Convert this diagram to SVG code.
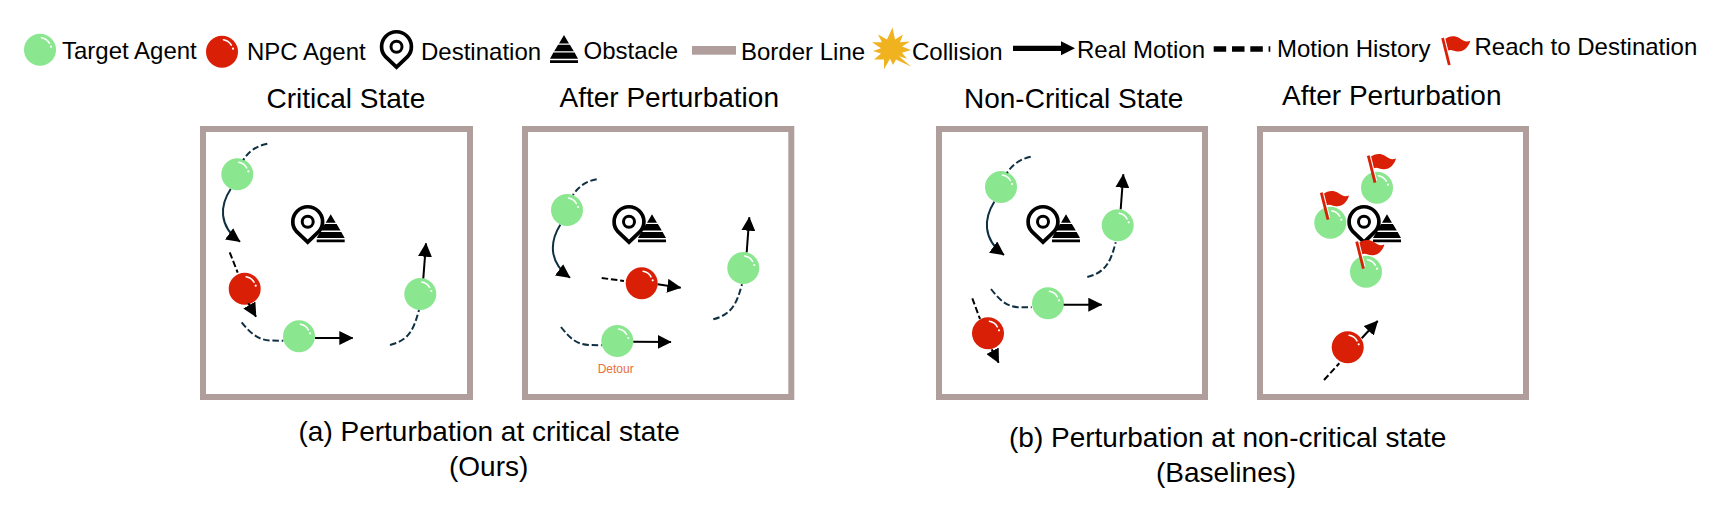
<svg xmlns="http://www.w3.org/2000/svg" width="1727" height="506" viewBox="0 0 1727 506">
<style>
text{font-family:"Liberation Sans",Arial,sans-serif;fill:#000}
.lg{font-size:24px}
.tt{font-size:28px}
.cap{font-size:28px}
.frame{fill:#fff;stroke:#b09e9d;stroke-width:6}
.hist{fill:none;stroke:#0f3042;stroke-width:2;stroke-dasharray:6.5 2.8}
.histk{fill:none;stroke:#000;stroke-width:2;stroke-dasharray:6.5 2.8}
.arc{fill:none;stroke:#0f3042;stroke-width:2;marker-end:url(#ah)}
.mv{fill:none;stroke:#000;stroke-width:2;marker-end:url(#ah)}
.hl{fill:none;stroke:#fff;stroke-width:1.6;stroke-linecap:round}
</style>
<defs>
<marker id="ah" markerUnits="userSpaceOnUse" viewBox="0 0 12 12" markerWidth="14" markerHeight="14" refX="11.5" refY="6" orient="auto"><path d="M0 0L12 6L0 12Z" fill="#000"/></marker>
<g id="shine"><path class="hl" d="M1.5 -12Q7 -11 9.3 -6.5"/><circle cx="11" cy="-3" r="1.1" fill="#fff"/></g>
<g id="green"><circle r="16" fill="#8ae790"/><use href="#shine"/></g>
<g id="red"><circle r="16" fill="#d92007"/><use href="#shine"/></g>
<g id="pin"><path d="M0 20.5L-11 10A14.9 14.9 0 1 1 11 10Z" fill="#fff" stroke="#000" stroke-width="3.7"/><circle r="5.5" fill="none" stroke="#000" stroke-width="3"/></g>
<g id="obst"><path d="M0 0L5 8.5H-5Z M-5.900 9.800H5.900L9.800 16.300H-9.800Z M-10.600 17.600H10.600L14 23.800H-14Z M-14 25.200H14V28H-14Z" fill="#000"/></g>
<g id="flag"><path d="M2.3 1C6 -2 12 -3 16.700 0S23 4.500 27.700 2.700C26 9 21 14 15 13.500C11 13 9 11 5 12.500Z" fill="#d92007"/><path d="M2.200 0.500L8.300 25" stroke="#fff" stroke-width="1" fill="none"/><path d="M0 0L6.700 27" stroke="#d92007" stroke-width="2.800" fill="none"/></g>
</defs>
<rect width="1727" height="506" fill="#fff"/>

<g id="legend">
<g id="legend-target"><use href="#green" x="40" y="49.7"/><text class="lg" x="62" y="59">Target Agent</text></g>
<g id="legend-npc"><use href="#red" x="222" y="51.7"/><text class="lg" x="247" y="60">NPC Agent</text></g>
<g id="legend-destination"><use href="#pin" x="396.5" y="46.7"/><text class="lg" x="421" y="60">Destination</text></g>
<g id="legend-obstacle"><use href="#obst" x="564" y="35"/><text class="lg" x="583.5" y="59">Obstacle</text></g>
<g id="legend-border"><rect x="692" y="46" width="44" height="8.7" fill="#b09e9d"/><text class="lg" x="741" y="59.5">Border Line</text></g>
<g id="legend-collision"><polygon points="892.5,27.4 895,39.6 903,34.4 900,42.2 910,41.4 902,46.6 911,50.1 902,52.7 907,58.8 899,56.2 911,66.6 896,59.6 893,64.9 890,58.8 884,69.2 884,59.6 874,59.6 881,53.6 873,50.9 881,48.3 872,42.2 882,42.2 878,34.4 887,39.6" fill="#f0b21f"/><text class="lg" x="912" y="60">Collision</text></g>
<g id="legend-real"><path d="M1013 48.3H1062" stroke="#000" stroke-width="5.3" fill="none"/><path d="M1061 41.3L1075 48.3L1061 55.3Z" fill="#000"/><text class="lg" x="1077" y="57.7">Real Motion</text></g>
<g id="legend-history"><path d="M1213.7 49H1270.3" stroke="#000" stroke-width="5.3" stroke-dasharray="12.5 5.8" fill="none"/><text class="lg" x="1277" y="56.7">Motion History</text></g>
<g id="legend-reach"><use href="#flag" x="1442.6" y="38"/><text class="lg" x="1474.5" y="55.3">Reach to Destination</text></g>
</g>

<g id="titles">
<text class="tt" x="266.5" y="108">Critical State</text>
<text class="tt" x="559.5" y="107">After Perturbation</text>
<text class="tt" x="964" y="108">Non-Critical State</text>
<text class="tt" x="1282" y="105">After Perturbation</text>
</g>

<g id="frames">
<rect id="frame-a1" class="frame" x="203" y="129" width="267" height="268"/>
<rect id="frame-a2" class="frame" x="525" y="129" width="266.3" height="268"/>
<rect id="frame-b1" class="frame" x="939" y="129" width="266" height="268"/>
<rect id="frame-b2" class="frame" x="1260" y="129" width="266" height="268"/>
</g>

<g id="panel-a1">
<g id="a1-dest"><use href="#pin" x="307.7" y="221.7"/><use href="#obst" x="330.7" y="214.3"/></g>
<use id="a1-t1" href="#green" x="237.3" y="174.3"/>
<use id="a1-npc" href="#red" x="244.7" y="288.7"/>
<use id="a1-t2" href="#green" x="299" y="336.3"/>
<use id="a1-t3" href="#green" x="420.3" y="294"/>
</g>
<g id="panel-a2">
<g id="a2-dest"><use href="#pin" x="629" y="221.7"/><use href="#obst" x="652" y="214.3"/></g>
<use id="a2-t1" href="#green" x="567" y="210"/>
<use id="a2-npc" href="#red" x="641.7" y="283.3"/>
<use id="a2-t2" href="#green" x="617.3" y="341"/>
<use id="a2-t3" href="#green" x="743.3" y="268"/>
<text id="a2-detour" x="597.7" y="372.7" font-size="12" style="fill:#e8703a">Detour</text>
</g>
<g id="panel-b1">
<g id="b1-dest"><use href="#pin" x="1043" y="221.7"/><use href="#obst" x="1066" y="214.3"/></g>
<use id="b1-t1" href="#green" x="1001" y="187"/>
<use id="b1-t2" href="#green" x="1117.7" y="225.3"/>
<use id="b1-t3" href="#green" x="1048" y="303.3"/>
<use id="b1-npc" href="#red" x="988" y="333.3"/>
</g>
<g id="panel-b2">
<g id="b2-dest"><use href="#pin" x="1364" y="221.7"/><use href="#obst" x="1387" y="214.3"/></g>
<g id="b2-t1"><use href="#green" x="1377" y="187.7"/><use href="#flag" x="1368.3" y="155.7"/></g>
<g id="b2-t2"><use href="#green" x="1330.3" y="222.7"/><use href="#flag" x="1321.3" y="192.7"/></g>
<g id="b2-t3"><use href="#green" x="1366" y="271.7"/><use href="#flag" x="1356.7" y="241.7"/></g>
<use id="b2-npc" href="#red" x="1347.7" y="347.3"/>
</g>

<g id="connectors">
<path class="hist" d="M267.3 143.7C256 146 248 152 243.3 160"/>
<path class="arc" d="M230.7 189C220 205 218 226 240 241.7"/>
<path class="histk" d="M229.7 252.3L237.7 272.7"/>
<path class="mv" d="M248.3 303.3L256 316.7"/>
<path class="hist" d="M241.7 322.3C250 333 258 340 270 340.5L283.3 340.7"/>
<path class="mv" d="M315 338H352.7"/>
<path class="hist" d="M390 345C410 340 414 328 419 310"/>
<path class="mv" d="M423.3 278.3L426 243.3"/>

<path class="hist" d="M596.7 179.3C586 181 578 187 573 195"/>
<path class="arc" d="M560.3 224.7C550 241 548 262 570 277.7"/>
<path class="histk" d="M601.7 278L624 281"/>
<path class="mv" d="M657.7 284.3L680.7 287.7"/>
<path class="hist" d="M561 327C569.5 338 577 344.7 589 345L601.7 345.3"/>
<path class="mv" d="M633.3 341.7L671 342"/>
<path class="hist" d="M713.3 319.3C733 314 737 302 742 284.3"/>
<path class="mv" d="M746.7 252.3L749.3 217.3"/>

<path class="hist" d="M1030.7 156.7C1020 159 1012 165 1007 173"/>
<path class="arc" d="M994.3 201.7C984 218 982 239 1004 255"/>
<path class="hist" d="M1087.3 277C1107 272 1111 260 1115.7 242.3"/>
<path class="mv" d="M1120.7 209.3L1123.3 174.3"/>
<path class="hist" d="M991 289C999.5 300 1007 307 1019 307.3L1031.7 307.3"/>
<path class="mv" d="M1063.7 304.7H1101.7"/>
<path class="histk" d="M972.3 298.3L980 319"/>
<path class="mv" d="M991.7 349.3L998.7 362.7"/>

<path class="histk" d="M1324 380L1339.3 363.3"/>
<path class="mv" d="M1361.7 338.3L1377.7 321"/>
</g>

<g id="captions">
<text class="cap" x="298.5" y="440.5">(a) Perturbation at critical state</text>
<text class="cap" x="449" y="476">(Ours)</text>
<text class="cap" x="1009" y="447">(b) Perturbation at non-critical state</text>
<text class="cap" x="1156" y="482">(Baselines)</text>
</g>
</svg>
